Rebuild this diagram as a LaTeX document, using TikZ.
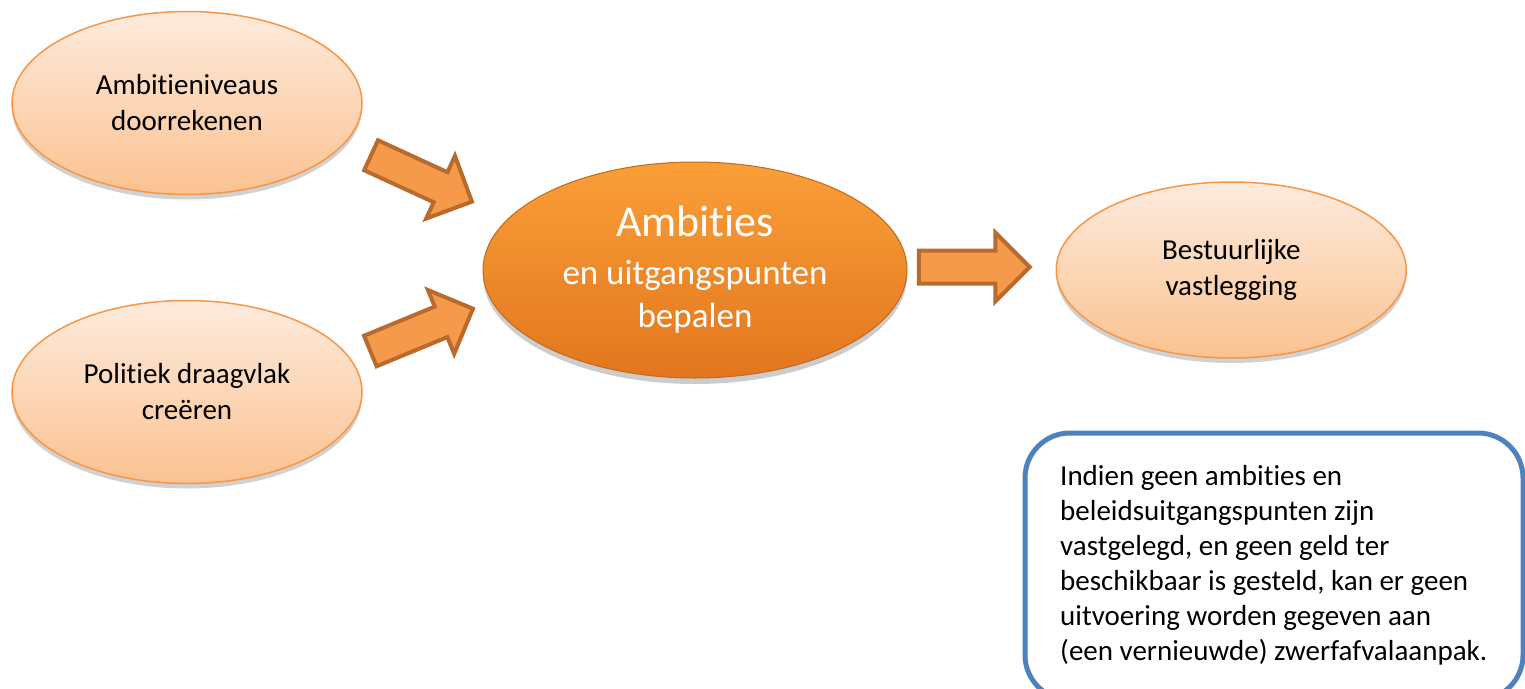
\documentclass[tikz,border=0pt]{standalone}
\usepackage{fontspec}
\setmainfont[Ligatures=NoCommon]{Carlito}
\usepackage{tikz}
\usetikzlibrary{positioning,shapes.geometric,shapes.arrows,shadows}

\definecolor{peachtop}{HTML}{FDEBDD}
\definecolor{peachbot}{HTML}{FBC290}
\definecolor{peachline}{HTML}{F79646}
\definecolor{oranjetop}{HTML}{FA9F38}
\definecolor{oranjebot}{HTML}{E2761E}
\definecolor{oranjerand}{HTML}{C4681C}
\definecolor{pijlvul}{HTML}{F59A4A}
\definecolor{pijlrand}{HTML}{B96B2E}
\definecolor{kaderblauw}{HTML}{4F81BD}

\begin{document}
\begin{tikzpicture}[
x=1pt, y=-1pt,
node distance = 8pt and 148pt,
stap/.style={ellipse, draw=peachline, line width=1.5pt, top color=peachtop, bottom color=peachbot,
  minimum width=350pt, minimum height=183pt, inner sep=0pt, align=center,
  font=\fontsize{29}{36}\selectfont,
  drop shadow={shadow xshift=0pt, shadow yshift=-5pt, opacity=0.18, fill=black}},
kern/.style={ellipse, draw=oranjerand, line width=1pt, top color=oranjetop, bottom color=oranjebot,
  minimum width=424pt, minimum height=216pt, inner sep=0pt, align=center, text=white,
  font=\fontsize{35}{43}\selectfont,
  drop shadow={shadow xshift=0pt, shadow yshift=-6pt, opacity=0.2, fill=black}},
blokpijl/.style={single arrow, draw=pijlrand, fill=pijlvul, line width=4pt,
  minimum height=111pt, inner sep=0pt, inner ysep=14.5pt,
  single arrow head extend=18pt, single arrow tip angle=90},
kader/.style={draw=kaderblauw, line width=5pt, rounded corners=45pt}]

\useasboundingbox (0,0) rectangle (1525,688);

\node[stap] (rekenen) at (187,103) {Ambitieniveaus\\doorrekenen};
\node[stap] (draagvlak) at (187,392) {Politiek draagvlak\\creëren};
\node[kern] (ambities) at (695,270)
  {{\fontsize{44}{48}\selectfont Ambities}\\[5pt]
   en uitgangspunten\\
   bepalen};
\node[stap, minimum height=176pt] (vastlegging) [right = of ambities] {Bestuurlijke\\vastlegging};

\node[blokpijl, rotate=-24.7] (pijl1) at (414,175) {};
\node[blokpijl, rotate=22.4] (pijl2) at (414,333) {};
\node[blokpijl] (pijl3) at (966,267) {};

\draw[kader] (1025,433) rectangle (1523,700);
\node[anchor=north west, align=left, inner sep=0pt, font=\fontsize{29}{35}\selectfont]
  (toelichting) at (1060,465)
  {Indien geen ambities en\\beleidsuitgangspunten zijn\\vastgelegd, en geen geld ter\\beschikbaar is gesteld, kan er geen\\uitvoering worden gegeven aan\\(een vernieuwde) zwerfafvalaanpak.};
\end{tikzpicture}
\end{document}
